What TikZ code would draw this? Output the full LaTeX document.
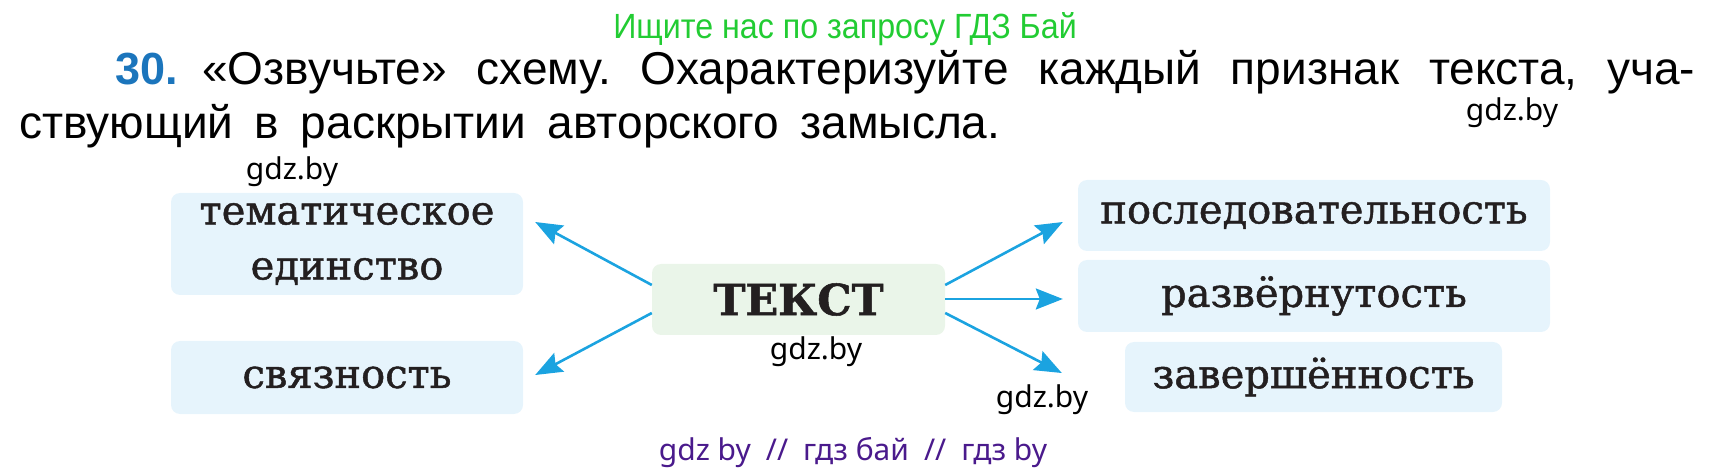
\documentclass[tikz,border=0pt]{standalone}
\usepackage{fontspec}
\setmainfont{Liberation Sans}
\newfontfamily\schoolfont[FakeBold=1.2]{DejaVu Serif}
\newfontfamily\markfont{Noto Sans}
\newfontfamily\hintfont[FakeStretch=0.92]{Liberation Sans}
\usetikzlibrary{arrows.meta}
\definecolor{boxblue}{HTML}{E6F4FC}
\definecolor{boxgreen}{HTML}{EAF5E9}
\definecolor{arrowblue}{HTML}{1BA3E0}
\definecolor{numblue}{HTML}{1B75BC}
\definecolor{hintgreen}{HTML}{22CC33}
\definecolor{markpurple}{HTML}{4A1A8C}
\definecolor{inkblack}{HTML}{231F20}
\frenchspacing

\begin{document}
\begin{tikzpicture}
  [x=1pt,y=-1pt,
   sign/.style={rectangle,rounded corners=9pt,fill=boxblue,inner sep=0pt,
     text=inkblack,align=center,font=\schoolfont\fontsize{40}{55}\selectfont},
   line/.style={inner sep=0pt,anchor=base west,font=\fontsize{46}{52}\selectfont},
   wmark/.style={inner sep=0pt,font=\markfont\fontsize{30}{36}\selectfont}]
  \useasboundingbox (0,0) rectangle (1709,470);

  % heading and task
  \node[inner sep=0pt,anchor=base,text=hintgreen,font=\hintfont\fontsize{35}{40}\selectfont] (hint)
    at (845,39) {Ищите нас по запросу ГДЗ Бай};
  \node[line,text=numblue,font=\bfseries\fontsize{45}{50}\selectfont] (num) at (115,85) {30.};
  \node[line] (row1) at (202,85)
    {\makebox[1493pt][s]{«Озвучьте» схему. Охарактеризуйте каждый признак текста, уча-}};
  \node[line] (row2) at (19,139)
    {\makebox[981pt][s]{ствующий в раскрытии авторского замысла.}};

  % scheme
  \node[sign,minimum width=352pt,minimum height=102pt] (them) at (347,244)
    {тематическое\\единство};
  \node[sign,minimum width=352pt,minimum height=73pt] (svyaz) at (347,377.5) {связность};
  \node[sign,fill=boxgreen,minimum width=293pt,minimum height=71pt,
    font=\schoolfont\bfseries\fontsize{43}{50}\selectfont] (txt) at (798.5,299.5) {ТЕКСТ};
  \node[sign,minimum width=472pt,minimum height=71pt] (posl) at (1314,215.5)
    {последовательность};
  \node[sign,minimum width=472pt,minimum height=72pt] (razv) at (1314,296) {развёрнутость};
  \node[sign,minimum width=377pt,minimum height=70pt] (zav) at (1313.5,377) {завершённость};

  \path[every edge/.style={draw,arrowblue,line width=2.6pt,
      -{Stealth[length=27pt,width=21pt,inset=4pt]}}]
    ([yshift=14.5pt]txt.west) edge ([xshift=12pt,yshift=22pt]them.east)
    ([yshift=-13.5pt]txt.west) edge ([xshift=12pt,yshift=2.5pt]svyaz.east)
    ([yshift=14.5pt]txt.east) edge ([xshift=-15pt,yshift=-6.5pt]posl.west)
    ([yshift=0.5pt]txt.east) edge ([xshift=-15pt,yshift=-3pt]razv.west)
    ([yshift=-13.5pt]txt.east) edge ([xshift=-63pt,yshift=4pt]zav.west);

  % watermarks
  \node[wmark] (m1) at (1512,113) {gdz.by};
  \node[wmark] (m2) at (292,172) {gdz.by};
  \node[wmark] (m3) at (816,352) {gdz.by};
  \node[wmark] (m4) at (1042,400) {gdz.by};
  \node[wmark,text=markpurple,anchor=base] (m5) at (853,460)
    {gdz by\hspace{15pt}//\hspace{15pt}гдз бай\hspace{15pt}//\hspace{15pt}гдз by};
\end{tikzpicture}
\end{document}
